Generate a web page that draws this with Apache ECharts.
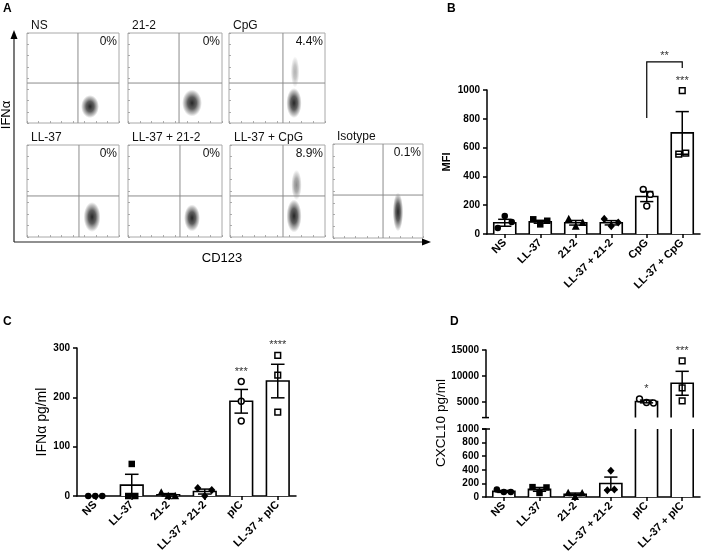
<!DOCTYPE html>
<html><head><meta charset="utf-8">
<script src="https://cdn.jsdelivr.net/npm/echarts@6/dist/echarts.min.js"></script>
<style>html,body{margin:0;padding:0;background:#fff}#c{width:708px;height:557px}</style>
</head><body><div id="c"></div>
<script>
// ---------- Panel A (flow cytometry) ----------
const flowNames = ['NS', '21-2', 'CpG', 'LL-37', 'LL-37 + 21-2', 'LL-37 + CpG', 'Isotype'];
const flowPercents = ['0%', '0%', '4.4%', '0%', '0%', '8.9%', '0.1%'];
const flowGateX = [554, 543, 562, 565, 553, 558, 556];
const flowGateY = [444, 444, 444, 446, 446, 446, 457];
// clusters: [centre CD123, centre IFNa, half spread x, half spread y, density]
const flowMain = [[685, 183, 98, 128, 0.85], [681, 222, 106, 150, 0.85], [677, 222, 80, 167, 0.85],
  [707, 217, 92, 163, 0.85], [681, 207, 85, 147, 0.85], [674, 228, 80, 180, 0.85], [722, 277, 58, 207, 0.85]];
const flowTail = [null, null, [688, 567, 45, 175, 0.3], null, null, [700, 565, 55, 165, 0.45], null];

// ---------- Panel B ----------
const catsB = ['NS', 'LL-37', '21-2', 'LL-37 + 21-2', 'CpG', 'LL-37 + CpG'];
const meanB = [78, 85, 78, 78, 260, 702];
const semB = [24, 10, 16, 15, 35, 148];
const ptsB = [[42, 125, 83], [102, 67, 92], [105, 52, 78], [105, 55, 80], [310, 275, 194], [995, 555, 562]];
const starsB = ['', '', '', '', '', '***'];
const bracketB = [[4, 5, 805, 1195, 1152]];
const bracketLabelB = '**';

// ---------- Panel C ----------
const catsC = ['NS', 'LL-37', '21-2', 'LL-37 + 21-2', 'pIC', 'LL-37 + pIC'];
const meanC = [0, 22, 2.5, 9, 192, 233];
const semC = [0, 22, 2.4, 5, 24, 34];
const ptsC = [[0, 0, 0], [65, 0, 0], [7, 0, 0], [16, 0, 12], [232, 192, 152], [285, 245, 170]];
const starsC = ['', '', '', '', '***', '****'];

// ---------- Panel D ----------
const catsD = ['NS', 'LL-37', '21-2', 'LL-37 + 21-2', 'pIC', 'LL-37 + pIC'];
const meanD = [82, 112, 40, 198, 5100, 8600];
const semD = [14, 28, 18, 95, 260, 2300];
const ptsD = [[110, 72, 72], [145, 60, 140], [60, 5, 55], [100, 385, 110], [5600, 4900, 4800], [12900, 7700, 5200]];
const starsD = ['', '', '', '', '*', '***'];
const dUpperTicks = [5000, 10000, 15000];

const markerStyles = ['circle', 'square', 'triangle', 'diamond', 'circleOpen', 'squareOpen'];
const FONT = '"Liberation Sans", Arial, sans-serif';

// ---------- render helpers ----------
function line(x1, y1, x2, y2, w, c) {
  return { type: 'line', shape: { x1, y1, x2, y2 }, style: { stroke: c || '#000', lineWidth: w || 1.5 } };
}
function barRenderer(ext) {
  return function (params, api) {
    const i = api.value(0), v = api.value(1);
    if (v <= ext[0]) return null;
    const band = api.size([1, 0])[0];
    const w = band * 0.62;
    const base = Math.max(ext[0], 0);
    const cx = api.coord([i, base])[0];
    const yb = api.coord([i, base])[1];
    const clipped = v > ext[1];
    const yt = api.coord([i, Math.min(v, ext[1])])[1];
    const x0 = cx - w / 2, x1 = cx + w / 2;
    const ch = [{ type: 'rect', shape: { x: x0, y: yt, width: w, height: yb - yt }, style: { fill: '#fff' } }];
    if (clipped) { ch.push(line(x0, yb, x0, yt, 1.6), line(x1, yb, x1, yt, 1.6)); }
    else ch.push({ type: 'polyline', shape: { points: [[x0, yb], [x0, yt], [x1, yt], [x1, yb]] }, style: { stroke: '#000', lineWidth: 1.6, fill: null } });
    return { type: 'group', children: ch };
  };
}
function errRenderer(ext) {
  return function (params, api) {
    const i = api.value(0), m = api.value(1), s = api.value(2);
    if (!(s > 0)) return null;
    const band = api.size([1, 0])[0];
    const cw = band * 0.62 * 0.6;
    const lo = m - s, hi = m + s;
    if (hi < ext[0] || lo > ext[1]) return null;
    const a = api.coord([i, Math.max(lo, ext[0])]), b = api.coord([i, Math.min(hi, ext[1])]);
    const ch = [line(a[0], a[1], b[0], b[1], 1.5)];
    if (hi <= ext[1] && hi >= ext[0]) ch.push(line(b[0] - cw / 2, b[1], b[0] + cw / 2, b[1], 1.5));
    if (lo >= ext[0] && lo <= ext[1] && lo > 0) ch.push(line(a[0] - cw / 2, a[1], a[0] + cw / 2, a[1], 1.5));
    return { type: 'group', children: ch };
  };
}
function marker(kind, x, y) {
  const s = 6.5, h = s / 2;
  const open = kind.indexOf('Open') > 0;
  const st = open ? { fill: '#fff', stroke: '#000', lineWidth: 1.5 } : { fill: '#000' };
  if (kind.indexOf('circle') === 0) return { type: 'circle', shape: { cx: x, cy: y, r: open ? h - 0.3 : h }, style: st };
  if (kind.indexOf('square') === 0) return { type: 'rect', shape: { x: x - h + (open ? 0.4 : 0), y: y - h + (open ? 0.4 : 0), width: s - (open ? 0.8 : 0), height: s - (open ? 0.8 : 0) }, style: st };
  if (kind === 'triangle') return { type: 'polygon', shape: { points: [[x, y - h - 1], [x + h + 0.7, y + h], [x - h - 0.7, y + h]] }, style: st };
  return { type: 'polygon', shape: { points: [[x, y - h - 0.8], [x + h + 0.4, y], [x, y + h + 0.8], [x - h - 0.4, y]] }, style: st };
}
function ptsRenderer(ext) {
  return function (params, api) {
    const i = api.value(0);
    const vals = [api.value(1), api.value(2), api.value(3)];
    const pts = [];
    vals.forEach((v, k) => { if (v >= ext[0] && v <= ext[1]) { const c = api.coord([i, v]); pts.push({ k, x: c[0], y: c[1] }); } });
    const sorted = pts.slice().sort((p, q) => p.y - q.y);
    const clusters = [];
    sorted.forEach(p => {
      const last = clusters[clusters.length - 1];
      if (last && Math.abs(last[last.length - 1].y - p.y) < 6.5) last.push(p); else clusters.push([p]);
    });
    const step = 7;
    const ch = [];
    clusters.forEach(cl => {
      cl.sort((p, q) => p.k - q.k);
      cl.forEach((p, j) => ch.push(marker(markerStyles[i], p.x + (j - (cl.length - 1) / 2) * step, p.y)));
    });
    return { type: 'group', children: ch };
  };
}
function starRenderer(labels) {
  return function (params, api) {
    const i = api.value(0), top = api.value(1);
    if (!labels[i]) return null;
    const c = api.coord([i, top]);
    return { type: 'text', style: { text: labels[i], x: c[0], y: c[1] - 10, align: 'center', verticalAlign: 'middle', textAlign: 'center', textVerticalAlign: 'middle', font: '11px ' + FONT, fill: '#333' } };
  };
}
function starData(pts, mean, sem, ext) {
  return pts.map((p, i) => [i, Math.max(...p.filter(v => v <= ext[1]), Math.min(mean[i] + sem[i], ext[1]))]);
}
function barSet(gi, means, sems, pts, stars, ext) {
  const ax = { xAxisIndex: gi, yAxisIndex: gi, type: 'custom', silent: true };
  return [
    Object.assign({}, ax, { renderItem: barRenderer(ext), data: means.map((m, i) => [i, m]), z: 2 }),
    Object.assign({}, ax, { renderItem: ptsRenderer(ext), data: pts.map((p, i) => [i, p[0], p[1], p[2]]), z: 3 }),
    Object.assign({}, ax, { renderItem: errRenderer(ext), data: means.map((m, i) => [i, m, sems[i]]), z: 4 }),
    Object.assign({}, ax, { renderItem: starRenderer(stars), data: starData(pts, means, sems, ext), z: 5 })
  ];
}

// ---------- grids ----------
const flowBoxes = [[27, 33, 92, 90], [128, 33, 94, 90], [229, 33, 96, 90],
  [27, 145, 92, 92], [128, 145, 94, 92], [230, 145, 95, 92], [333, 144, 90, 94]];
const grids = [], xAxes = [], yAxes = [], series = [];
flowBoxes.forEach((b, gi) => {
  grids.push({ left: b[0], top: b[1], width: b[2], height: b[3], show: true, borderColor: '#a8a8a8', borderWidth: 1, outerBoundsMode: 'none', containLabel: false });
  const fa = { type: 'value', gridIndex: gi, min: 0, max: 1000, interval: 125, axisLine: { show: false }, axisLabel: { show: false }, splitLine: { show: false },
    axisTick: { show: true, inside: true, length: 2, lineStyle: { color: '#999', width: 0.8 } } };
  xAxes.push(Object.assign({}, fa));
  yAxes.push(Object.assign({}, fa));
  const ax = { xAxisIndex: gi, yAxisIndex: gi, type: 'custom', silent: true };
  const clouds = [flowMain[gi]].concat(flowTail[gi] ? [flowTail[gi]] : []);
  series.push(Object.assign({}, ax, {
    data: clouds, z: 2,
    renderItem: function (params, api) {
      const cx = api.value(0), cy = api.value(1), sx = api.value(2), sy = api.value(3), d = api.value(4);
      const c = api.coord([cx, cy]), e = api.coord([cx + sx, cy + sy]);
      const rx = Math.abs(e[0] - c[0]), ry = Math.abs(e[1] - c[1]);
      return { type: 'circle', x: c[0], y: c[1], scaleX: 1, scaleY: ry / rx, shape: { cx: 0, cy: 0, r: rx },
        style: { fill: { type: 'radial', x: 0.5, y: 0.5, r: 0.5, colorStops: [
          { offset: 0, color: 'rgba(0,0,0,' + d + ')' }, { offset: 0.45, color: 'rgba(20,20,20,' + (d * 0.8) + ')' },
          { offset: 0.8, color: 'rgba(60,60,60,' + (d * 0.35) + ')' }, { offset: 1, color: 'rgba(90,90,90,0)' }] } } };
    }
  }));
  series.push(Object.assign({}, ax, {
    data: [[flowGateX[gi], flowGateY[gi]]], z: 3,
    renderItem: function (params, api) {
      const gx = api.value(0), gy = api.value(1);
      const bl = api.coord([0, 0]), tr = api.coord([1000, 1000]);
      const g = api.coord([gx, gy]);
      return { type: 'group', children: [
        line(g[0], bl[1], g[0], tr[1], 1, '#8c8c8c'),
        line(bl[0], g[1], tr[0], g[1], 1, '#8c8c8c'),
        { type: 'text', style: { text: flowPercents[gi], x: tr[0] - 2, y: tr[1] + 3, align: 'right', verticalAlign: 'top', textAlign: 'right', textVerticalAlign: 'top', font: '12px ' + FONT, fill: '#111' } },
        { type: 'text', style: { text: flowNames[gi], x: bl[0] + 4, y: tr[1] - 1, align: 'left', verticalAlign: 'bottom', textAlign: 'left', textVerticalAlign: 'bottom', font: '12px ' + FONT, fill: '#111' } }
      ] };
    }
  }));
});

const plain = v => String(v);
const axLine = { show: true, lineStyle: { color: '#000', width: 1.5 } };
const axTick = { show: true, length: 4, lineStyle: { color: '#000', width: 1.5 } };
const yLab = { color: '#000', fontWeight: 'bold', fontSize: 10, fontFamily: FONT, margin: 7, formatter: plain };
const xLab = { color: '#000', fontWeight: 'bold', fontSize: 11, fontFamily: FONT, rotate: 45, interval: 0, margin: 7 };
function catAxis(gi, cats, show) {
  return { type: 'category', gridIndex: gi, data: cats, show: show !== false, axisLine: axLine,
    axisTick: Object.assign({}, axTick, { alignWithLabel: true, interval: 0 }), axisLabel: xLab, splitLine: { show: false } };
}
// B grid (7)
grids.push({ left: 487, top: 90, width: 213, height: 144, outerBoundsMode: 'none', containLabel: false });
xAxes.push(catAxis(7, catsB));
yAxes.push({ type: 'value', gridIndex: 7, min: 0, max: 1000, interval: 200, axisLine: axLine, axisTick: axTick, axisLabel: yLab, splitLine: { show: false },
  name: 'MFI', nameLocation: 'middle', nameGap: 35, nameTextStyle: { color: '#000', fontWeight: 'bold', fontSize: 11, fontFamily: FONT } });
// C grid (8)
grids.push({ left: 77, top: 348, width: 219, height: 148, outerBoundsMode: 'none', containLabel: false });
xAxes.push(catAxis(8, catsC));
yAxes.push({ type: 'value', gridIndex: 8, min: 0, max: 300, interval: 100, axisLine: axLine, axisTick: axTick, axisLabel: yLab, splitLine: { show: false },
  name: 'IFNα pg/ml', nameLocation: 'middle', nameGap: 27, nameTextStyle: { color: '#000', fontSize: 14, fontFamily: FONT } });
// D upper (9) and lower (10)
grids.push({ left: 486, top: 350, width: 214, height: 67.6, outerBoundsMode: 'none', containLabel: false });
xAxes.push(catAxis(9, catsD, false));
yAxes.push({ type: 'value', gridIndex: 9, min: 2000, max: 15000, axisLine: axLine,
  axisTick: Object.assign({}, axTick, { customValues: dUpperTicks }), axisLabel: Object.assign({}, yLab, { customValues: dUpperTicks }), splitLine: { show: false } });
grids.push({ left: 486, top: 429, width: 214, height: 68, outerBoundsMode: 'none', containLabel: false });
xAxes.push(catAxis(10, catsD));
yAxes.push({ type: 'value', gridIndex: 10, min: 0, max: 1000, interval: 200, axisLine: axLine, axisTick: axTick, axisLabel: yLab, splitLine: { show: false } });

series.push(...barSet(7, meanB, semB, ptsB, starsB, [0, 1000]));
series.push(...barSet(8, meanC, semC, ptsC, starsC, [0, 300]));
series.push(...barSet(9, meanD, semD, ptsD, starsD, [2000, 15000]));
series.push(...barSet(10, meanD, semD, ptsD, ['', '', '', '', '', ''], [0, 1000]));

// significance bracket B
series.push({ type: 'custom', xAxisIndex: 7, yAxisIndex: 7, silent: true, z: 6, data: bracketB,
  renderItem: function (params, api) {
    const a = api.coord([api.value(0), api.value(2)]), t1 = api.coord([api.value(0), api.value(3)]),
      t2 = api.coord([api.value(1), api.value(3)]), b = api.coord([api.value(1), api.value(4)]);
    return { type: 'group', children: [
      { type: 'polyline', shape: { points: [a, t1, t2, b] }, style: { stroke: '#000', lineWidth: 1.2, fill: null } },
      { type: 'text', style: { text: bracketLabelB, x: (t1[0] + t2[0]) / 2, y: t1[1] - 6, align: 'center', verticalAlign: 'middle', textAlign: 'center', textVerticalAlign: 'middle', font: '11px ' + FONT, fill: '#333' } }
    ] };
  } });
// axis break caps for D
series.push({ type: 'custom', xAxisIndex: 9, yAxisIndex: 9, silent: true, z: 6, data: [[0, 2000]],
  renderItem: function (params, api) {
    const band = api.size([1, 0])[0]; const c = api.coord([0, api.value(1)]); const x = c[0] - band / 2;
    return line(x - 4, c[1], x + 3, c[1], 1.5);
  } });
series.push({ type: 'custom', xAxisIndex: 10, yAxisIndex: 10, silent: true, z: 6, data: [[0, 1000]],
  renderItem: function (params, api) {
    const band = api.size([1, 0])[0]; const c = api.coord([0, api.value(1)]); const x = c[0] - band / 2;
    return line(x - 4, c[1], x + 4, c[1], 1.5);
  } });

const txt = (t, x, y, font) => ({ type: 'text', style: { text: t, x, y, font, fill: '#000', align: 'left', verticalAlign: 'top', textAlign: 'left', textVerticalAlign: 'top' } });
const graphic = [
  txt('A', 3, 3, 'bold 12px ' + FONT), txt('B', 447, 3, 'bold 12px ' + FONT),
  txt('C', 3, 316, 'bold 12px ' + FONT), txt('D', 450, 316, 'bold 12px ' + FONT),
  { type: 'line', shape: { x1: 14, y1: 242, x2: 14, y2: 38 }, style: { stroke: '#222', lineWidth: 1.2 } },
  { type: 'polygon', shape: { points: [[14, 30], [10.5, 39], [17.5, 39]] }, style: { fill: '#000' } },
  { type: 'line', shape: { x1: 14, y1: 242, x2: 423, y2: 242 }, style: { stroke: '#222', lineWidth: 1.2 } },
  { type: 'polygon', shape: { points: [[431, 242], [422, 238.5], [422, 245.5]] }, style: { fill: '#000' } },
  { type: 'text', x: 6, y: 115, rotation: Math.PI / 2, style: { text: 'IFNα', x: 0, y: 0, font: '13px ' + FONT, fill: '#000', align: 'center', verticalAlign: 'middle', textAlign: 'center', textVerticalAlign: 'middle' } },
  { type: 'text', style: { text: 'CD123', x: 222, y: 258, font: '13px ' + FONT, fill: '#000', align: 'center', verticalAlign: 'middle', textAlign: 'center', textVerticalAlign: 'middle' } },
  { type: 'text', x: 441, y: 423, rotation: Math.PI / 2, style: { text: 'CXCL10 pg/ml', x: 0, y: 0, font: '13.5px ' + FONT, fill: '#000', align: 'center', verticalAlign: 'middle', textAlign: 'center', textVerticalAlign: 'middle' } }
];

const chart = echarts.init(document.getElementById('c'), null, { renderer: 'canvas' });
chart.setOption({ animation: false, backgroundColor: '#fff', textStyle: { fontFamily: FONT },
  grid: grids, xAxis: xAxes, yAxis: yAxes, series, graphic });
</script></body></html>
